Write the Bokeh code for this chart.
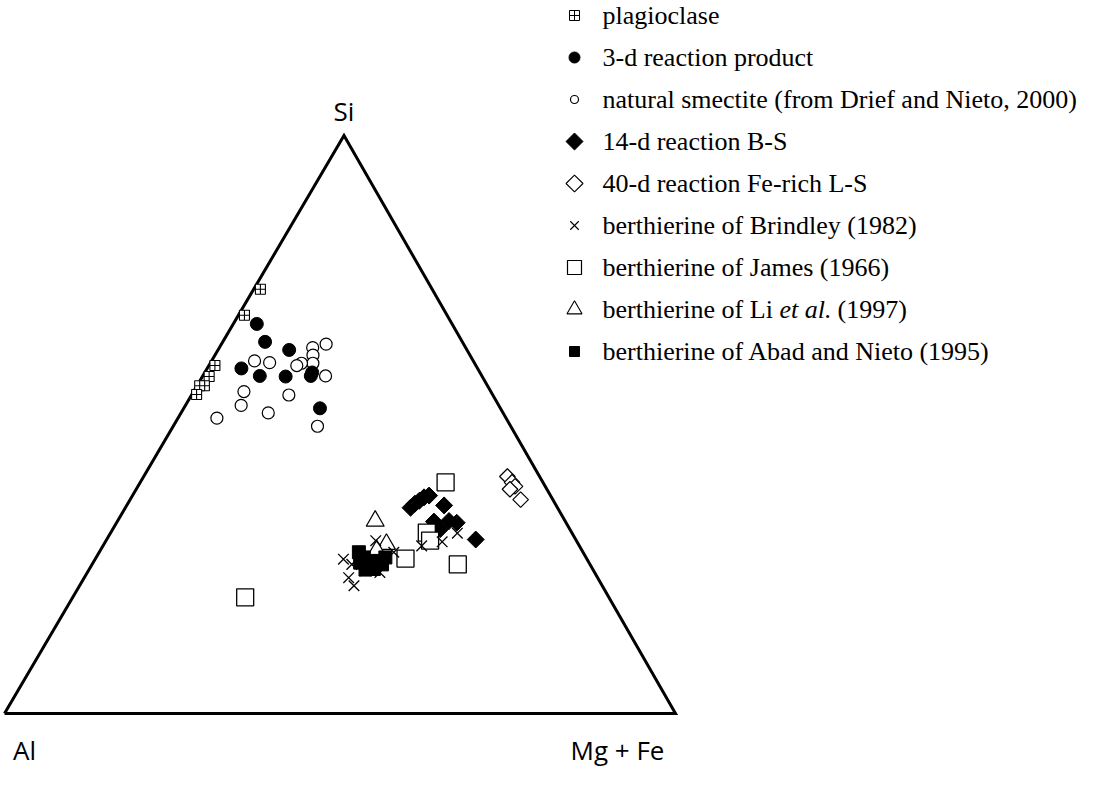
import numpy as np
from bokeh.plotting import figure
from bokeh.models import Range1d
from bokeh.core.properties import value
from bokeh.embed import file_html
from bokeh.resources import INLINE

# ---------------- data: ternary compositions (%), Si / Al / Mg+Fe ----------------
plag_si = [73.4, 68.9, 60.2, 58.3, 56.7, 56.7, 55.2]
plag_al = [25.6, 30.2, 38.9, 40.7, 42.2, 42.9, 44.1]
plag_mg = [1.0, 0.9, 0.9, 1.0, 1.1, 0.4, 0.7]

d3_si = [67.4, 64.3, 62.9, 59.7, 58.4, 58.3, 58.4, 59.0, 52.8]
d3_al = [29.1, 29.4, 26.5, 35.2, 33.1, 29.3, 25.5, 25.0, 26.9]
d3_mg = [3.5, 6.3, 10.6, 5.1, 8.5, 12.4, 16.1, 16.0, 20.3]

smec_si = [63.3, 63.9, 62.0, 60.6, 60.6, 60.2, 61.0, 60.7, 58.4, 55.7, 55.1, 53.3, 52.0, 51.1, 49.7]
smec_al = [22.8, 20.5, 23.4, 24.1, 25.8, 26.7, 32.6, 30.5, 23.3, 36.8, 30.4, 38.4, 35.0, 43.1, 28.8]
smec_mg = [13.9, 15.6, 14.6, 15.3, 13.6, 13.1, 6.4, 8.8, 18.3, 7.5, 14.5, 8.3, 13.0, 5.8, 21.5]

d14_si = [35.6, 36.3, 36.8, 37.4, 37.7, 36.0, 33.2, 33.3, 33.0, 31.9, 31.7, 30.1]
d14_al = [21.9, 20.9, 20.0, 19.0, 18.1, 16.7, 19.6, 17.3, 16.3, 19.3, 20.3, 14.9]
d14_mg = [42.5, 42.8, 43.2, 43.6, 44.2, 47.3, 47.2, 49.4, 50.7, 48.8, 48.0, 55.0]

d40_si = [41.0, 40.0, 39.3, 38.8, 37.0]
d40_al = [4.8, 4.6, 4.5, 5.5, 4.8]
d40_mg = [54.2, 55.4, 56.2, 55.7, 58.2]

brin_si = [26.7, 23.5, 22.1, 29.9, 24.4, 27.9, 29.0, 29.7, 31.2, 24.7, 25.8]
brin_al = [36.3, 37.1, 37.0, 29.9, 32.0, 28.2, 23.5, 20.1, 17.1, 34.0, 35.5]
brin_mg = [37.0, 39.4, 40.9, 40.2, 43.6, 43.9, 47.5, 50.2, 51.7, 41.3, 38.7]

james_si = [40.0, 31.3, 29.9, 26.8, 25.8, 20.1]
james_al = [14.5, 21.6, 21.8, 27.0, 19.7, 54.2]
james_mg = [45.5, 47.1, 48.3, 46.2, 54.5, 25.7]

li_si = [33.3, 29.3, 28.2]
li_al = [28.3, 28.6, 30.6]
li_mg = [38.4, 42.1, 41.2]

abad_si = [27.9, 26.1, 27.0, 25.6, 25.0, 26.4, 25.8, 27.0, 24.9]
abad_al = [33.4, 34.1, 33.1, 33.1, 32.6, 31.5, 31.0, 29.9, 33.9]
abad_mg = [38.7, 39.8, 39.9, 41.3, 42.4, 42.1, 43.2, 43.1, 41.2]

legend_labels = [
    "plagioclase",
    "3-d reaction product",
    "natural smectite (from Drief and Nieto, 2000)",
    "14-d reaction B-S",
    "40-d reaction Fe-rich L-S",
    "berthierine of Brindley (1982)",
    "berthierine of James (1966)",
    "berthierine of Li et al. (1997)",
    "berthierine of Abad and Nieto (1995)",
]
corner_labels = ["Si", "Al", "Mg + Fe"]

# ---------------- layout (screen pixels) ----------------
AL_V = (12.0, 721.0)
MG_V = (683.0, 721.0)
SI_V = (351.5, 143.0)


def tern(si, al, mg):
    si = np.asarray(si, float); al = np.asarray(al, float); mg = np.asarray(mg, float)
    t = si + al + mg
    a, m, s = al / t, mg / t, si / t
    x = a * AL_V[0] + m * MG_V[0] + s * SI_V[0]
    y = a * AL_V[1] + m * MG_V[1] + s * SI_V[1]
    return x, y


W, H = 1077, 774
p = figure(width=W, height=H, output_backend="svg", toolbar_location=None,
           x_range=Range1d(8, 8 + W), y_range=Range1d(8 + H, 8),
           min_border=0, min_border_left=0, min_border_right=0,
           min_border_top=0, min_border_bottom=0)
p.axis.visible = False
p.grid.visible = False
p.outline_line_color = None
p.background_fill_color = "white"
p.border_fill_color = "white"

# triangle frame
tx, ty = tern([0, 0, 100, 0], [100, 0, 0, 100], [0, 100, 0, 0])
p.line(tx, ty, line_color="black", line_width=3, line_join="miter")

K = "black"
# series
x, y = tern(plag_si, plag_al, plag_mg)
p.scatter(x, y, marker="square_cross", size=10, fill_color="white", line_color=K, line_width=1.1)
x, y = tern(smec_si, smec_al, smec_mg)
p.scatter(x, y, marker="circle", size=12, fill_color="white", line_color=K, line_width=1.2)
x, y = tern(d3_si, d3_al, d3_mg)
p.scatter(x, y, marker="circle", size=13, fill_color=K, line_color=K)
x, y = tern(d40_si, d40_al, d40_mg)
p.scatter(x, y, marker="square", angle=np.pi / 4, size=11, fill_color="white", line_color=K, line_width=1.2)
x, y = tern(d14_si, d14_al, d14_mg)
p.scatter(x, y, marker="square", angle=np.pi / 4, size=12, fill_color=K, line_color=K)
x, y = tern(james_si, james_al, james_mg)
p.scatter(x, y, marker="square", size=17, fill_color="white", line_color=K, line_width=1.3)
x, y = tern(li_si, li_al, li_mg)
p.scatter(x, y, marker="triangle", size=18, fill_color="white", line_color=K, line_width=1.2)
x, y = tern(abad_si, abad_al, abad_mg)
p.scatter(x, y, marker="square", size=13, fill_color=K, line_color=K)
x, y = tern(brin_si, brin_al, brin_mg)
p.scatter(x, y, marker="x", size=15, line_color=K, line_width=1.3)

# corner labels
sans = value("Open Sans")
p.text([SI_V[0]], [118], text=[corner_labels[0]], text_font=sans, text_font_size="26px",
       text_align="center", text_baseline="alphabetic", text_color=K)
p.text([32], [757], text=[corner_labels[1]], text_font=sans, text_font_size="26px",
       text_align="center", text_baseline="alphabetic", text_color=K)
p.text([625], [757], text=[corner_labels[2]], text_font=sans, text_font_size="26px",
       text_align="center", text_baseline="alphabetic", text_color=K)

# legend
serif = value("Liberation Serif")
LX_M, LX_T = 582, 610
rows = [23 + 42.0 * i for i in range(9)]
leg_markers = [
    dict(marker="square_cross", size=10, fill_color="white", line_width=1.0),
    dict(marker="circle", size=11, fill_color=K),
    dict(marker="circle", size=8, fill_color="white", line_width=1.2),
    dict(marker="square", angle=np.pi / 4, size=12, fill_color=K),
    dict(marker="square", angle=np.pi / 4, size=12, fill_color="white", line_width=1.1),
    dict(marker="x", size=12, line_width=1.1),
    dict(marker="square", size=14, fill_color="white", line_width=1.2),
    dict(marker="triangle", size=15, fill_color="white", line_width=1.1),
    dict(marker="square", size=10, fill_color=K),
]
for ry, mk in zip(rows, leg_markers):
    p.scatter([LX_M], [ry], line_color=K, **mk)

for i, (ry, lab) in enumerate(zip(rows, legend_labels)):
    if i == 7:
        parts = lab.split(" et al. ")
        p.text([LX_T], [ry], text=[parts[0]], text_font=serif, text_font_size="26px",
               text_baseline="middle", text_color=K)
        p.text([787], [ry], text=["et al."], text_font=serif, text_font_size="26px",
               text_font_style="italic", text_baseline="middle", text_color=K)
        p.text([845], [ry], text=[parts[1]], text_font=serif, text_font_size="26px",
               text_baseline="middle", text_color=K)
    else:
        p.text([LX_T], [ry], text=[lab], text_font=serif, text_font_size="26px",
               text_baseline="middle", text_color=K)

open("out.html", "w").write(file_html(p, INLINE))
